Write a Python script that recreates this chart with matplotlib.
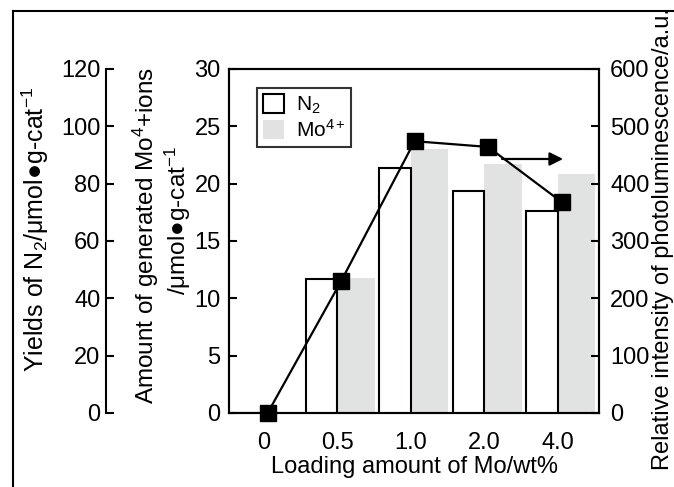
import matplotlib
matplotlib.use("Agg")
import matplotlib.pyplot as plt
from matplotlib.lines import Line2D
from matplotlib.patches import Patch
import numpy as np

plt.rcParams['font.family'] = ['Liberation Sans', 'DejaVu Sans']
plt.rcParams['mathtext.fontset'] = 'custom'
plt.rcParams['mathtext.rm'] = 'Liberation Sans'
plt.rcParams['mathtext.it'] = 'Liberation Sans:italic'
plt.rcParams['mathtext.bf'] = 'Liberation Sans:bold'

# --- data ---
loading      = ['0', '0.5', '1.0', '2.0', '4.0']
n2_yield     = [0, 46.7, 85.5, 77.4, 70.5]      # umol/g-cat (left outer axis)
mo4_ions     = [0, 11.8, 23.0, 21.7, 20.8]      # umol/g-cat (inner left axis)
pl_intensity = [0, 230, 474, 464, 368]          # a.u. (right axis)

GRAY = '#e1e2e2'
FS = 17

fig = plt.figure(figsize=(6.74, 4.87), dpi=100)
ax = fig.add_axes([0.3398, 0.152, 0.549, 0.7064])
x = np.arange(len(loading))

# outer N2 axis
axN = ax.twinx()
for s in ['top', 'bottom', 'right']:
    axN.spines[s].set_visible(False)
axN.spines['left'].set_visible(True)
axN.spines['left'].set_position(('axes', -0.332))
axN.yaxis.set_ticks_position('left')
axN.yaxis.set_label_position('left')

# right PL axis
axR = ax.twinx()

# bars
ax.bar(x + 0.255, mo4_ions, width=0.51, color=GRAY, edgecolor='none', zorder=1)
axN.bar(x - 0.215, n2_yield, width=0.43, facecolor='white', edgecolor='black', linewidth=1.5)

# PL line
axR.plot(x + 0.05, pl_intensity, color='black', lw=1.6, marker='s', markersize=11,
         markerfacecolor='black', markeredgecolor='black', clip_on=False, zorder=5)
axR.annotate('', xy=(x[3] + 1.07, pl_intensity[3] - 21), xytext=(x[3] + 0.24, pl_intensity[3] - 21),
             arrowprops=dict(arrowstyle='-|>', color='black', lw=1.6, mutation_scale=20,
                             shrinkA=0, shrinkB=0))

# limits
ax.set_xlim(-0.476, 4.56)
ax.set_ylim(0, 30)
axN.set_ylim(0, 120)
axR.set_ylim(0, 600)

ax.set_xticks(x)
ax.set_xticklabels(loading)
ax.set_yticks(np.arange(0, 31, 5))
axN.set_yticks(np.arange(0, 121, 20))
axR.set_yticks(np.arange(0, 601, 100))

for a in (ax, axN, axR):
    for s in a.spines.values():
        s.set_linewidth(1.5)
ax.tick_params(axis='x', length=0, pad=14, labelsize=FS)
ax.tick_params(axis='y', direction='in', length=6, width=1.5, pad=6, labelsize=FS)
axN.tick_params(axis='y', direction='in', length=6, width=1.5, pad=4, labelsize=FS)
axR.tick_params(axis='y', direction='in', length=6, width=1.5, pad=8, labelsize=FS)

ax.set_xlabel('Loading amount of Mo/wt%', fontsize=FS, labelpad=1)

# legend
handles = [Patch(facecolor='white', edgecolor='black', linewidth=1.5, label='N$_2$'),
           Patch(facecolor=GRAY, edgecolor='none', label='Mo$^{4+}$')]
leg = axR.legend(handles=handles, loc='upper left', bbox_to_anchor=(0.0757, 0.945),
                 borderaxespad=0, fontsize=15, frameon=True, fancybox=False,
                 handlelength=1.0, handleheight=1.0, handletextpad=0.55,
                 labelspacing=0.15, borderpad=0.3)
leg.get_frame().set_edgecolor('black')
leg.get_frame().set_linewidth(1.5)

# axis titles
fig.text(0.052, 0.528, 'Yields of N$_2$/μmol●g-cat$^{-1}$', rotation=90,
         ha='center', va='center', fontsize=18)
fig.text(0.2166, 0.517, 'Amount of generated Mo$^{4}$+ions', rotation=90,
         ha='center', va='center', fontsize=17.5)
fig.text(0.264, 0.548, '/μmol●g-cat$^{-1}$', rotation=90,
         ha='center', va='center', fontsize=17.5)
fig.text(0.984, 0.51, 'Relative intensity of photoluminescence/a.u.', rotation=90,
         ha='center', va='center', fontsize=17)

# outer frame
fig.add_artist(Line2D([13 / 674, 1.0], [1 - 11 / 487, 1 - 11 / 487], color='black', lw=1.5))
fig.add_artist(Line2D([13 / 674, 13 / 674], [0, 1 - 11 / 487], color='black', lw=1.5))

fig.savefig('out.png', dpi=100)
